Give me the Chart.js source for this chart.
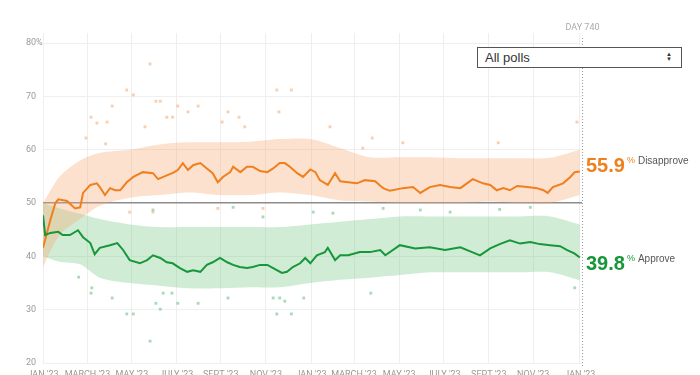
<!DOCTYPE html>
<html>
<head>
<meta charset="utf-8">
<script src="https://cdn.jsdelivr.net/npm/chart.js@4/dist/chart.umd.min.js"></script>
<style>
  html, body { margin: 0; padding: 0; background: #fff; overflow: hidden; }
  #wrap { position: relative; width: 700px; height: 385px; }
  #pollSelect {
    position: absolute; left: 477px; top: 47px; width: 205px; height: 21px;
    box-sizing: border-box; border: 1px solid #555; background: #fff;
    font: 13px "Liberation Sans", Arial, sans-serif; color: #333;
    padding-left: 7px; line-height: 19px;
  }
  #pollSelect .arrows { position: absolute; right: 9px; top: 4px; font-size: 6px; line-height: 5px; color: #333; }
</style>
</head>
<body>
<div id="wrap">
  <canvas id="approvalChart" width="700" height="385"></canvas>
  <div id="pollSelect">All polls<span class="arrows">&#9650;<br>&#9660;</span></div>
</div>
<script>
// x axis is in days since the start of the term
const currentDay = 740;
const tickDays = [0, 61, 122, 183, 244, 306, 368, 427, 489, 550, 612, 673, 737];
const tickLabels = ["JAN '23", "MARCH '23", "MAY '23", "JULY '23", "SEPT '23", "NOV '23",
  "JAN '23", "MARCH '23", "MAY '23", "JULY '23", "SEPT '23", "NOV '23", "JAN '23"];
const yTicks = [20, 30, 40, 50, 60, 70, 80];

// trend lines
const disapproveDays = [0, 10, 17, 21, 33, 44, 51, 55, 65, 74, 78, 85, 92, 99, 106, 115, 124, 137, 151, 158,
  170, 179, 185, 192, 199, 206, 216, 225, 233, 240, 247, 257, 261, 271, 280, 288, 298, 308, 316, 325,
  332, 339, 349, 357, 367, 374, 380, 391, 401, 408, 419, 431, 442, 456, 467, 476, 494, 508, 518, 531,
  545, 559, 573, 582, 590, 604, 614, 623, 632, 641, 651, 665, 678, 687, 693, 700, 714, 724, 730, 737];
const disapproveValues = [41.6, 46.8, 50, 50.7, 50.4, 49, 49.2, 51.9, 53.4, 53.7, 53, 51.5, 52.8, 52.4, 52.4, 53.9, 54.9, 55.8, 55.6, 54.5,
  55.2, 55.7, 56.2, 57.5, 56.2, 57.1, 57.5, 56.5, 55.6, 53.9, 54.9, 55.8, 56.8, 55.8, 56.8, 56.8, 56, 55.8, 56.5, 57.5,
  57.5, 56.8, 55.6, 54.9, 56.3, 55.8, 54.3, 53.4, 55.6, 54.1, 53.9, 53.7, 54.3, 54.1, 52.8, 52.3, 52.8, 53, 51.9, 53,
  53.4, 53, 52.8, 53.7, 54.5, 53.7, 53.4, 52.4, 52.8, 52.4, 53.2, 53, 52.8, 52.4, 51.9, 53, 53.7, 54.9, 55.8, 55.9];

const approveDays = [0, 3, 10, 21, 27, 37, 48, 55, 65, 71, 78, 92, 102, 110, 119, 133, 143, 151, 161, 170,
  178, 188, 198, 206, 216, 225, 233, 243, 253, 261, 270, 280, 288, 298, 308, 316, 328, 335, 343, 353,
  360, 367, 376, 387, 391, 401, 408, 419, 435, 449, 463, 470, 490, 511, 531, 552, 573, 589, 600, 614,
  627, 641, 655, 669, 682, 696, 710, 719, 730, 737];
const approveValues = [47.7, 44, 44.4, 44.6, 44, 44, 44.9, 43.6, 42.5, 40.4, 41.6, 42.1, 42.5, 41.2, 39.3, 38.7, 39.3, 40.2, 39.7, 38.9,
  38.7, 37.8, 37.1, 37.4, 37.1, 38.4, 38.9, 39.7, 38.9, 38.4, 38, 37.8, 38, 38.4, 38.4, 37.8, 36.9, 37.1, 38, 38.7,
  39.7, 38.7, 40.2, 40.8, 41.6, 39.3, 40.2, 40.2, 40.8, 40.8, 41.2, 40.2, 42.1, 41.5, 41.7, 41.2, 41.7, 40.8, 40.2, 41.5,
  42.3, 43, 42.4, 42.7, 42.3, 42.1, 41.9, 41.2, 40.5, 39.8];

// shaded spread of the polls
const bandDays = [0, 23, 51, 78, 119, 160, 201, 243, 284, 325, 367, 408, 449, 490, 532, 573, 614, 655, 696, 737];
const disapproveUpper = [50, 55, 58, 59.4, 60, 61, 61.4, 61.4, 61.5, 62, 62, 60.3, 58.6, 58.6, 58.6, 58.4, 58.4, 58.4, 58.5, 60];
const disapproveLower = [38, 44, 47, 49.5, 51, 51.5, 52, 51.5, 51.5, 52, 51.5, 50.5, 50.3, 50, 50, 50, 50.3, 50, 50, 51.5];
const approveUpper = [50, 49, 48, 47, 46, 45.5, 45.5, 45.5, 45.5, 45.5, 46, 46.5, 47, 47.5, 47.5, 47.5, 47.5, 47.5, 47.5, 46];
const approveLower = [40, 39, 38.5, 36, 35, 34.5, 34, 34, 34.2, 34.2, 35, 35.6, 36, 36.5, 37, 37, 37, 37, 37, 35.5];

// individual polls outside the main band
const disapprovePollDays = [147, 115, 124, 95, 155, 161, 66, 185, 199, 213, 254, 269, 321, 341, 324, 170, 178,
  74, 88, 59, 86, 140, 246, 277, 394, 452, 494, 625, 439, 733, 119, 151, 240, 302];
const disapprovePollValues = [76.1, 71.2, 70.3, 68.2, 69.1, 69.1, 66.1, 68.2, 67.1, 68.2, 67.1, 66.1, 71.2, 71.2, 67.1, 66.1, 66.1,
  65, 65.2, 62.2, 61.1, 64.3, 65.2, 64.3, 64.3, 62.2, 61.3, 61.3, 60.3, 65.2, 48.3, 48.3, 49, 49];
const approvePollDays = [147, 115, 124, 155, 161, 185, 213, 254, 321, 341, 358, 95, 66, 67, 49, 316, 325, 332, 165, 177, 450, 730,
  151, 261, 302, 371, 398, 467, 518, 559, 627, 669];
const approvePollValues = [24.1, 29.2, 29.2, 31.2, 30.1, 31.2, 31.2, 32.2, 29.2, 29.2, 32.2, 32.2, 33.1, 34.1, 36.1, 32.2, 32.2, 31.6, 33.1, 33.1, 33.1, 34.1,
  48.7, 49.2, 47.4, 48.3, 48.1, 49, 48.7, 48.3, 48.8, 49.2];

const orange = '#f07f1e';
const green = '#17963a';

function toPoints(days, values) {
  return days.map((d, i) => ({ x: d, y: values[i] }));
}

const endLabels = {
  id: 'endLabels',
  afterDraw(chart) {
    const { ctx, scales: { x, y } } = chart;
    const lx = Math.round(x.getPixelForValue(currentDay)) + 0.5;
    ctx.save();
    // today marker
    ctx.strokeStyle = '#9a9a9a';
    ctx.lineWidth = 1;
    ctx.setLineDash([1, 2]);
    ctx.beginPath();
    ctx.moveTo(lx, 38);
    ctx.lineTo(lx, y.bottom + 3);
    ctx.stroke();
    ctx.setLineDash([]);
    ctx.fillStyle = '#aaa';
    ctx.font = '9px Roboto, sans-serif';
    ctx.textAlign = 'center';
    ctx.textBaseline = 'alphabetic';
    ctx.fillText('DAY ' + currentDay, lx, 30);

    const drawLabel = (value, baseline, color, name) => {
      const left = x.right + 4;
      ctx.textAlign = 'left';
      ctx.textBaseline = 'alphabetic';
      ctx.font = 'bold 20px "Liberation Sans", Arial, sans-serif';
      ctx.fillStyle = color;
      const txt = value.toFixed(1);
      ctx.fillText(txt, left, baseline);
      const w = ctx.measureText(txt).width;
      ctx.font = '9px "Liberation Sans", Arial, sans-serif';
      ctx.fillText('%', left + w + 2, baseline - 9);
      ctx.font = '10px "Liberation Sans", Arial, sans-serif';
      ctx.fillStyle = '#555';
      ctx.fillText(name, left + w + 13, baseline - 8);
    };
    const lastDis = disapproveValues[disapproveValues.length - 1];
    const lastApp = approveValues[approveValues.length - 1];
    drawLabel(lastDis, y.getPixelForValue(lastDis) + 0.5, orange, 'Disapprove');
    drawLabel(lastApp, y.getPixelForValue(lastApp) + 12.6, green, 'Approve');
    ctx.restore();
  }
};

const ctx = document.getElementById('approvalChart').getContext('2d');
new Chart(ctx, {
  type: 'line',
  data: {
    datasets: [
      { // 0 band disapprove upper
        data: toPoints(bandDays, disapproveUpper),
        borderColor: 'transparent', borderWidth: 0, pointRadius: 0, tension: 0.3,
        backgroundColor: 'rgba(246,170,115,0.35)', fill: '+1', order: 3
      },
      { // 1 band disapprove lower
        data: toPoints(bandDays, disapproveLower),
        borderColor: 'transparent', borderWidth: 0, pointRadius: 0, tension: 0.3, fill: false, order: 3
      },
      { // 2 band approve upper
        data: toPoints(bandDays, approveUpper),
        borderColor: 'transparent', borderWidth: 0, pointRadius: 0, tension: 0.3,
        backgroundColor: 'rgba(120,200,135,0.35)', fill: '+1', order: 3
      },
      { // 3 band approve lower
        data: toPoints(bandDays, approveLower),
        borderColor: 'transparent', borderWidth: 0, pointRadius: 0, tension: 0.3, fill: false, order: 3
      },
      {
        data: toPoints(disapprovePollDays, disapprovePollValues),
        showLine: false, pointStyle: 'rect', pointRadius: 2, borderWidth: 0,
        pointBackgroundColor: 'rgba(246,172,120,0.6)', order: 2
      },
      {
        data: toPoints(approvePollDays, approvePollValues),
        showLine: false, pointStyle: 'rect', pointRadius: 2, borderWidth: 0,
        pointBackgroundColor: 'rgba(110,195,130,0.6)', order: 2
      },
      {
        label: 'Disapprove',
        data: toPoints(disapproveDays, disapproveValues),
        borderColor: orange, borderWidth: 2, pointRadius: 0, fill: false, order: 1
      },
      {
        label: 'Approve',
        data: toPoints(approveDays, approveValues),
        borderColor: green, borderWidth: 2, pointRadius: 0, fill: false, order: 0
      }
    ]
  },
  options: {
    responsive: false,
    animation: false,
    layout: { padding: { left: 26, right: 118, top: 33, bottom: 0 } },
    plugins: { legend: { display: false }, tooltip: { enabled: false } },
    scales: {
      x: {
        type: 'linear', min: 0, max: currentDay,
        afterBuildTicks: s => { s.ticks = tickDays.map(v => ({ value: v })); },
        afterFit: s => { s.height = 22; },
        grid: { color: '#efefef', drawTicks: false },
        border: { display: false },
        ticks: {
          autoSkip: false, maxRotation: 0, padding: 6,
          color: '#999', font: { family: 'Roboto', size: 9 },
          callback: (v, i) => tickLabels[i]
        }
      },
      y: {
        min: 20, max: 81.9,
        afterBuildTicks: s => { s.ticks = yTicks.map(v => ({ value: v })); },
        afterFit: s => { s.width = 17; },
        grid: {
          drawTicks: false,
          color: c => c.tick.value === 50 ? '#8c8c8c' : '#efefef',
          lineWidth: c => c.tick.value === 50 ? 1.5 : 1
        },
        border: { display: false },
        ticks: {
          crossAlign: 'far', padding: 0,
          color: '#999', font: { family: 'Roboto', size: 9 },
          callback: v => v === 80 ? '80%' : v
        }
      }
    }
  },
  plugins: [endLabels]
});
</script>
</body>
</html>
